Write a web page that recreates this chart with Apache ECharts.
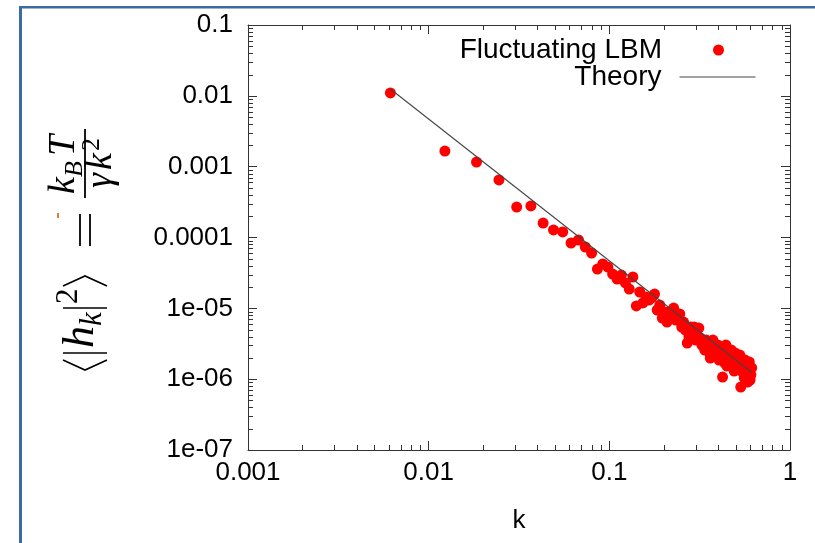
<!DOCTYPE html>
<html><head><meta charset="utf-8">
<script src="https://cdn.jsdelivr.net/npm/echarts@6/dist/echarts.min.js"></script>
<style>html,body{margin:0;padding:0;background:#fff}#c{width:815px;height:543px}</style>
</head><body><div id="c"></div>
<script>
// ---- data ----
const seriesNames = ['Fluctuating LBM', 'Theory'];
const xName = 'k';
const kValues = [
  0.00614, 0.0123, 0.0184, 0.0245, 0.0307, 0.0368, 0.0430, 0.0491, 0.0552, 0.0614,
  0.0675, 0.0736, 0.0798, 0.0859, 0.0920, 0.0982, 0.1043, 0.1104, 0.1166, 0.1227,
  0.1289, 0.1350, 0.1411, 0.1473, 0.1534, 0.1595, 0.1657, 0.1718, 0.1779, 0.1841,
  0.1902, 0.1963, 0.2025, 0.2086, 0.2148, 0.2209, 0.2270, 0.2332, 0.2393, 0.2454,
  0.2516, 0.2577, 0.2638, 0.2700, 0.2761, 0.2823, 0.2884, 0.2945, 0.3007, 0.3068,
  0.3129, 0.3191, 0.3252, 0.3313, 0.3375, 0.3436, 0.3497, 0.3559, 0.3620, 0.3682,
  0.3743, 0.3804, 0.3866, 0.3927, 0.3988, 0.4050, 0.4111, 0.4172, 0.4234, 0.4295,
  0.4356, 0.4418, 0.4479, 0.4541, 0.4602, 0.4663, 0.4725, 0.4786, 0.4847, 0.4909,
  0.4970, 0.5031, 0.5093, 0.5154, 0.5215, 0.5277, 0.5338, 0.5400, 0.5461, 0.5522,
  0.5584, 0.5645, 0.5706, 0.5768, 0.5829, 0.5890, 0.5952, 0.6013, 0.6075, 0.6136
];
const lbmValues = [
  1.10e-2, 1.66e-3, 1.16e-3, 6.49e-4, 2.69e-4, 2.79e-4, 1.60e-4, 1.28e-4, 1.20e-4, 8.36e-5,
  9.22e-5, 7.34e-5, 6.04e-5, 3.59e-5, 4.23e-5, 3.83e-5, 3.05e-5, 2.59e-5, 2.95e-5, 2.28e-5,
  1.87e-5, 2.77e-5, 1.08e-5, 1.70e-5, 1.19e-5, 1.45e-5, 1.31e-5, 1.40e-5, 1.59e-5, 9.47e-6,
  1.11e-5, 7.30e-6, 8.87e-6, 6.41e-6, 8.87e-6, 7.80e-6, 1.01e-5, 6.84e-6, 8.32e-6, 8.32e-6,
  5.45e-6, 6.41e-6, 4.94e-6, 3.24e-6, 3.94e-6, 5.45e-6, 4.49e-6, 5.45e-6, 3.57e-6, 4.20e-6,
  5.27e-6, 3.81e-6, 3.03e-6, 3.24e-6, 2.58e-6, 3.57e-6, 2.94e-6, 2.42e-6, 1.99e-6, 2.75e-6,
  3.57e-6, 2.42e-6, 2.58e-6, 2.12e-6, 3.03e-6, 1.86e-6, 2.19e-6, 1.99e-6, 1.07e-6, 2.42e-6,
  1.69e-6, 3.03e-6, 1.53e-6, 1.99e-6, 1.99e-6, 1.75e-6, 2.58e-6, 1.53e-6, 1.86e-6, 1.30e-6,
  2.34e-6, 1.64e-6, 1.99e-6, 1.44e-6, 1.75e-6, 2.19e-6, 7.74e-7, 1.35e-6, 1.26e-6, 1.53e-6,
  1.04e-6, 1.86e-6, 1.18e-6, 1.07e-6, 9.12e-7, 1.35e-6, 1.75e-6, 9.72e-7, 1.15e-6, 1.44e-6
];
const theoryK = [0.00614, 0.6136];
const theoryValues = [0.0125, 1.24e-6];
const xRange = [0.001, 1];
const yRange = [1e-7, 0.1];
const xTickValues = [0.001, 0.01, 0.1, 1];
const xTickLabels = ['0.001', '0.01', '0.1', '1'];
const yTickValues = [1e-7, 1e-6, 1e-5, 1e-4, 1e-3, 1e-2, 1e-1];
const yTickLabels = ['1e-07', '1e-06', '1e-05', '0.0001', '0.001', '0.01', '0.1'];
const xMinorTicks = [0.002, 0.003, 0.004, 0.005, 0.006, 0.007, 0.008, 0.009,
  0.02, 0.03, 0.04, 0.05, 0.06, 0.07, 0.08, 0.09,
  0.2, 0.3, 0.4, 0.5, 0.6, 0.7, 0.8, 0.9];
const yMinorTicks = [2e-7, 3e-7, 4e-7, 5e-7, 6e-7, 7e-7, 8e-7, 9e-7,
  2e-6, 3e-6, 4e-6, 5e-6, 6e-6, 7e-6, 8e-6, 9e-6,
  2e-5, 3e-5, 4e-5, 5e-5, 6e-5, 7e-5, 8e-5, 9e-5,
  2e-4, 3e-4, 4e-4, 5e-4, 6e-4, 7e-4, 8e-4, 9e-4,
  2e-3, 3e-3, 4e-3, 5e-3, 6e-3, 7e-3, 8e-3, 9e-3,
  0.02, 0.03, 0.04, 0.05, 0.06, 0.07, 0.08, 0.09];

// ---- helpers ----
const FONT = '"Liberation Sans", Arial, sans-serif';
const SERIF = '"Liberation Serif", "DejaVu Serif", serif';
const AX = '#333';
const LINE_COLOR = '#444';
function lookup(vals, labels) {
  return function (v) {
    const lv = Math.log10(v);
    for (let i = 0; i < vals.length; i++) {
      if (Math.abs(Math.log10(vals[i]) - lv) < 1e-3) return labels[i];
    }
    return '';
  };
}
function makeAxis(pos, range, split, labels, isMain) {
  return {
    type: 'log', logBase: 10, min: range[0], max: range[1], splitNumber: split,
    position: pos,
    axisLine: { show: true, onZero: false, lineStyle: { color: AX, width: 1 } },
    axisTick: { show: true, inside: true, length: 9, lineStyle: { color: AX, width: 1 } },
    axisLabel: isMain ? {
      show: true, interval: 0, showMinLabel: true, showMaxLabel: true,
      fontFamily: FONT, fontSize: 26, color: '#000', formatter: labels,
      margin: (pos === 'left' ? 15 : 10)
    } : { show: false },
    splitLine: { show: false },
    minorTick: { show: false }
  };
}
function minorRenderer(isX) {
  return function (params, api) {
    const v = api.value(isX ? 0 : 1);
    const L = 5;
    const st = { stroke: AX, lineWidth: 1 };
    if (isX) {
      const a = api.coord([v, yRange[0]]);
      const b = api.coord([v, yRange[1]]);
      const x = Math.round(a[0]) + 0.5;
      return { type: 'group', children: [
        { type: 'line', shape: { x1: x, y1: a[1], x2: x, y2: a[1] - L }, style: st },
        { type: 'line', shape: { x1: x, y1: b[1], x2: x, y2: b[1] + L }, style: st }
      ] };
    } else {
      const a = api.coord([xRange[0], v]);
      const b = api.coord([xRange[1], v]);
      const y = Math.round(a[1]) + 0.5;
      return { type: 'group', children: [
        { type: 'line', shape: { x1: a[0], y1: y, x2: a[0] + L, y2: y }, style: st },
        { type: 'line', shape: { x1: b[0], y1: y, x2: b[0] - L, y2: y }, style: st }
      ] };
    }
  };
}
// formula pieces (rotated y-axis title)
function t(txt, u, v, size, italic) {
  return { type: 'text', x: u, y: v, silent: true,
    style: { text: txt, font: (italic ? 'italic ' : '') + size + 'px ' + SERIF, fill: '#000',
      textAlign: 'left', align: 'left', textVerticalAlign: 'middle', verticalAlign: 'middle' } };
}
function pl(points, w) {
  return { type: 'polyline', silent: true, shape: { points: points },
    style: { stroke: '#000', lineWidth: w || 1.6, fill: null } };
}
const formula = [
  pl([[14, -33], [4, -11], [14, 11]]),
  pl([[21, -33], [21, 11]]),
  t('h', 26, -15, 44, true),
  t('k', 48, -3.5, 31, true),
  pl([[66, -33], [66, 11]]),
  t('2', 70, -27.5, 31, false),
  pl([[88, -33], [98, -11], [88, 11]]),
  pl([[128, -16], [160, -16]], 1.8),
  pl([[128, -6], [160, -6]], 1.8),
  pl([[176, -11], [245, -11]], 1.8),
  t('k', 180, -32, 38, true),
  t('B', 197, -21, 26, true),
  t('T', 218, -32, 38, true),
  t('γ', 186, 5.5, 38, true),
  t('k', 204, 5.5, 38, true),
  t('2', 223, -4, 26, false)
];

const chart = echarts.init(document.getElementById('c'), null, { renderer: 'canvas' });
chart.setOption({
  animation: false,
  backgroundColor: '#fff',
  grid: { left: 248, right: 25, top: 25, bottom: 93, containLabel: false },
  xAxis: [
    Object.assign(makeAxis('bottom', xRange, 3, lookup(xTickValues, xTickLabels), true), {
      name: xName, nameLocation: 'middle', nameGap: 58,
      nameTextStyle: { fontFamily: FONT, fontSize: 26, color: '#000' }
    }),
    makeAxis('top', xRange, 3, null, false)
  ],
  yAxis: [
    makeAxis('left', yRange, 6, lookup(yTickValues, yTickLabels), true),
    makeAxis('right', yRange, 6, null, false)
  ],
  legend: [
    { data: [{ name: seriesNames[0], icon: 'circle' }], orient: 'vertical', align: 'right',
      right: 91, top: 36, itemWidth: 11, itemHeight: 11, padding: 0, selectedMode: false,
      textStyle: { fontFamily: FONT, fontSize: 28, color: '#000', padding: [0, 46, 0, 0] } },
    { data: [seriesNames[1]], orient: 'vertical', align: 'right',
      right: 59, top: 63, itemWidth: 76, itemHeight: 14, padding: 0, selectedMode: false,
      itemStyle: { opacity: 0 },
      lineStyle: { color: LINE_COLOR, width: 1, opacity: 1 },
      textStyle: { fontFamily: FONT, fontSize: 28, color: '#000', padding: [0, 13, 0, 0] } }
  ],
  graphic: [
    { type: 'rect', silent: true, shape: { x: 19, y: 6, width: 3, height: 537 }, style: { fill: '#3b6ba5' } },
    { type: 'rect', silent: true, shape: { x: 19, y: 6, width: 796, height: 2.5 }, style: { fill: '#3b6ba5' } },
    { type: 'rect', silent: true, shape: { x: 57, y: 213, width: 2, height: 5 }, style: { fill: '#d9822b' } },
    { type: 'group', x: 96, y: 374, rotation: Math.PI / 2, children: formula }
  ],
  series: [
    { type: 'scatter', name: seriesNames[0], xAxisIndex: 0, yAxisIndex: 0,
      data: kValues.map((k, i) => [k, lbmValues[i]]),
      symbol: 'circle', symbolSize: 11, itemStyle: { color: '#ff0000', opacity: 1 }, z: 3 },
    { type: 'line', name: seriesNames[1], xAxisIndex: 0, yAxisIndex: 0,
      data: theoryK.map((k, i) => [k, theoryValues[i]]),
      symbol: 'none', showSymbol: false, color: LINE_COLOR,
      itemStyle: { color: LINE_COLOR },
      lineStyle: { color: LINE_COLOR, width: 1.1 }, z: 4 },
    { type: 'custom', xAxisIndex: 0, yAxisIndex: 0, silent: true, z: 5,
      data: xMinorTicks.map(v => [v, yRange[0]]), renderItem: minorRenderer(true) },
    { type: 'custom', xAxisIndex: 0, yAxisIndex: 0, silent: true, z: 5,
      data: yMinorTicks.map(v => [xRange[0], v]), renderItem: minorRenderer(false) }
  ]
});
</script></body></html>
